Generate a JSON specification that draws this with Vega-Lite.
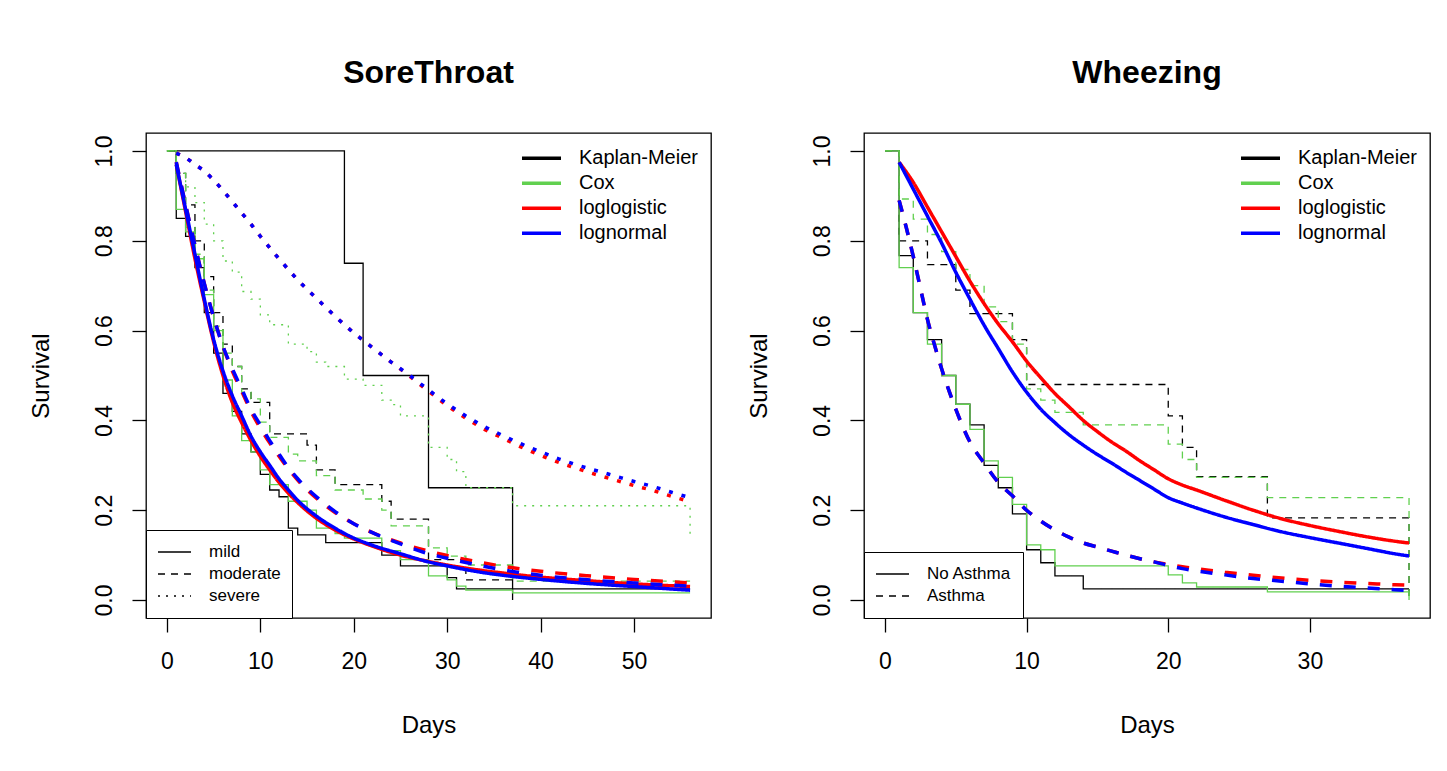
{
  "$schema": "https://vega.github.io/schema/vega-lite/v6.json",
  "padding": {"left": 28, "top": 56, "right": 0, "bottom": 0},
  "background": "white",
  "datasets": {
    "st": [
      {"m":"Kaplan-Meier","g":"mild","t":0,"S":1},{"m":"Kaplan-Meier","g":"mild","t":1,"S":0.85},{"m":"Kaplan-Meier","g":"mild","t":2,"S":0.81},{"m":"Kaplan-Meier","g":"mild","t":3,"S":0.74},{"m":"Kaplan-Meier","g":"mild","t":4,"S":0.64},{"m":"Kaplan-Meier","g":"mild","t":5,"S":0.55},{"m":"Kaplan-Meier","g":"mild","t":6,"S":0.46},{"m":"Kaplan-Meier","g":"mild","t":7,"S":0.42},{"m":"Kaplan-Meier","g":"mild","t":8,"S":0.37},{"m":"Kaplan-Meier","g":"mild","t":9,"S":0.33},{"m":"Kaplan-Meier","g":"mild","t":10,"S":0.28},{"m":"Kaplan-Meier","g":"mild","t":11,"S":0.245},{"m":"Kaplan-Meier","g":"mild","t":12,"S":0.23},{"m":"Kaplan-Meier","g":"mild","t":13,"S":0.16},{"m":"Kaplan-Meier","g":"mild","t":14,"S":0.145},{"m":"Kaplan-Meier","g":"mild","t":17,"S":0.128},{"m":"Kaplan-Meier","g":"mild","t":23,"S":0.1},{"m":"Kaplan-Meier","g":"mild","t":25,"S":0.076},{"m":"Kaplan-Meier","g":"mild","t":30,"S":0.05},{"m":"Kaplan-Meier","g":"mild","t":31,"S":0.025},{"m":"Kaplan-Meier","g":"mild","t":56,"S":0.025},
      {"m":"Kaplan-Meier","g":"moderate","t":0,"S":1},{"m":"Kaplan-Meier","g":"moderate","t":1,"S":0.95},{"m":"Kaplan-Meier","g":"moderate","t":2,"S":0.88},{"m":"Kaplan-Meier","g":"moderate","t":3,"S":0.8},{"m":"Kaplan-Meier","g":"moderate","t":4,"S":0.72},{"m":"Kaplan-Meier","g":"moderate","t":5,"S":0.64},{"m":"Kaplan-Meier","g":"moderate","t":6,"S":0.57},{"m":"Kaplan-Meier","g":"moderate","t":7,"S":0.52},{"m":"Kaplan-Meier","g":"moderate","t":8,"S":0.47},{"m":"Kaplan-Meier","g":"moderate","t":9,"S":0.44},{"m":"Kaplan-Meier","g":"moderate","t":11,"S":0.37},{"m":"Kaplan-Meier","g":"moderate","t":15,"S":0.345},{"m":"Kaplan-Meier","g":"moderate","t":16,"S":0.29},{"m":"Kaplan-Meier","g":"moderate","t":18,"S":0.257},{"m":"Kaplan-Meier","g":"moderate","t":23,"S":0.22},{"m":"Kaplan-Meier","g":"moderate","t":24,"S":0.18},{"m":"Kaplan-Meier","g":"moderate","t":28,"S":0.09},{"m":"Kaplan-Meier","g":"moderate","t":32,"S":0.045},{"m":"Kaplan-Meier","g":"moderate","t":37,"S":0.045},
      {"m":"Kaplan-Meier","g":"severe","t":0,"S":1},{"m":"Kaplan-Meier","g":"severe","t":19,"S":0.75},{"m":"Kaplan-Meier","g":"severe","t":21,"S":0.5},{"m":"Kaplan-Meier","g":"severe","t":28,"S":0.25},{"m":"Kaplan-Meier","g":"severe","t":37,"S":0},
      {"m":"Cox","g":"mild","t":0,"S":1},{"m":"Cox","g":"mild","t":1,"S":0.87},{"m":"Cox","g":"mild","t":2,"S":0.82},{"m":"Cox","g":"mild","t":3,"S":0.76},{"m":"Cox","g":"mild","t":4,"S":0.68},{"m":"Cox","g":"mild","t":5,"S":0.6},{"m":"Cox","g":"mild","t":6,"S":0.49},{"m":"Cox","g":"mild","t":7,"S":0.41},{"m":"Cox","g":"mild","t":8,"S":0.355},{"m":"Cox","g":"mild","t":9,"S":0.33},{"m":"Cox","g":"mild","t":10,"S":0.29},{"m":"Cox","g":"mild","t":11,"S":0.257},{"m":"Cox","g":"mild","t":13,"S":0.22},{"m":"Cox","g":"mild","t":15,"S":0.2},{"m":"Cox","g":"mild","t":16,"S":0.16},{"m":"Cox","g":"mild","t":18,"S":0.148},{"m":"Cox","g":"mild","t":19,"S":0.138},{"m":"Cox","g":"mild","t":23,"S":0.11},{"m":"Cox","g":"mild","t":25,"S":0.09},{"m":"Cox","g":"mild","t":28,"S":0.054},{"m":"Cox","g":"mild","t":30,"S":0.045},{"m":"Cox","g":"mild","t":31,"S":0.031},{"m":"Cox","g":"mild","t":32,"S":0.022},{"m":"Cox","g":"mild","t":37,"S":0.016},{"m":"Cox","g":"mild","t":56,"S":0.016},
      {"m":"Cox","g":"moderate","t":0,"S":1},{"m":"Cox","g":"moderate","t":1,"S":0.95},{"m":"Cox","g":"moderate","t":2,"S":0.83},{"m":"Cox","g":"moderate","t":3,"S":0.77},{"m":"Cox","g":"moderate","t":4,"S":0.69},{"m":"Cox","g":"moderate","t":5,"S":0.61},{"m":"Cox","g":"moderate","t":6,"S":0.55},{"m":"Cox","g":"moderate","t":7,"S":0.52},{"m":"Cox","g":"moderate","t":8,"S":0.463},{"m":"Cox","g":"moderate","t":9,"S":0.448},{"m":"Cox","g":"moderate","t":10,"S":0.396},{"m":"Cox","g":"moderate","t":11,"S":0.362},{"m":"Cox","g":"moderate","t":13,"S":0.325},{"m":"Cox","g":"moderate","t":14,"S":0.31},{"m":"Cox","g":"moderate","t":16,"S":0.277},{"m":"Cox","g":"moderate","t":18,"S":0.245},{"m":"Cox","g":"moderate","t":21,"S":0.225},{"m":"Cox","g":"moderate","t":23,"S":0.2},{"m":"Cox","g":"moderate","t":24,"S":0.165},{"m":"Cox","g":"moderate","t":28,"S":0.116},{"m":"Cox","g":"moderate","t":30,"S":0.098},{"m":"Cox","g":"moderate","t":32,"S":0.078},{"m":"Cox","g":"moderate","t":37,"S":0.042},{"m":"Cox","g":"moderate","t":56,"S":0.042},
      {"m":"Cox","g":"severe","t":0,"S":1},{"m":"Cox","g":"severe","t":1,"S":0.95},{"m":"Cox","g":"severe","t":2,"S":0.92},{"m":"Cox","g":"severe","t":3,"S":0.885},{"m":"Cox","g":"severe","t":4,"S":0.837},{"m":"Cox","g":"severe","t":5,"S":0.8},{"m":"Cox","g":"severe","t":6,"S":0.755},{"m":"Cox","g":"severe","t":7,"S":0.73},{"m":"Cox","g":"severe","t":8,"S":0.687},{"m":"Cox","g":"severe","t":9,"S":0.67},{"m":"Cox","g":"severe","t":10,"S":0.635},{"m":"Cox","g":"severe","t":11,"S":0.613},{"m":"Cox","g":"severe","t":13,"S":0.57},{"m":"Cox","g":"severe","t":15,"S":0.553},{"m":"Cox","g":"severe","t":16,"S":0.53},{"m":"Cox","g":"severe","t":17,"S":0.52},{"m":"Cox","g":"severe","t":19,"S":0.492},{"m":"Cox","g":"severe","t":21,"S":0.478},{"m":"Cox","g":"severe","t":23,"S":0.445},{"m":"Cox","g":"severe","t":24,"S":0.435},{"m":"Cox","g":"severe","t":25,"S":0.41},{"m":"Cox","g":"severe","t":28,"S":0.34},{"m":"Cox","g":"severe","t":30,"S":0.313},{"m":"Cox","g":"severe","t":31,"S":0.286},{"m":"Cox","g":"severe","t":32,"S":0.25},{"m":"Cox","g":"severe","t":37,"S":0.21},{"m":"Cox","g":"severe","t":56,"S":0.143},
      {"m":"loglogistic","g":"mild","t":1,"S":0.97},{"m":"loglogistic","g":"mild","t":2,"S":0.865},{"m":"loglogistic","g":"mild","t":3,"S":0.76},{"m":"loglogistic","g":"mild","t":4,"S":0.665},{"m":"loglogistic","g":"mild","t":5,"S":0.575},{"m":"loglogistic","g":"mild","t":6,"S":0.5},{"m":"loglogistic","g":"mild","t":7,"S":0.44},{"m":"loglogistic","g":"mild","t":8,"S":0.395},{"m":"loglogistic","g":"mild","t":9,"S":0.355},{"m":"loglogistic","g":"mild","t":10,"S":0.32},{"m":"loglogistic","g":"mild","t":11,"S":0.29},{"m":"loglogistic","g":"mild","t":12,"S":0.262},{"m":"loglogistic","g":"mild","t":13,"S":0.238},{"m":"loglogistic","g":"mild","t":14,"S":0.217},{"m":"loglogistic","g":"mild","t":16,"S":0.182},{"m":"loglogistic","g":"mild","t":18,"S":0.156},{"m":"loglogistic","g":"mild","t":20,"S":0.136},{"m":"loglogistic","g":"mild","t":22,"S":0.12},{"m":"loglogistic","g":"mild","t":25,"S":0.1},{"m":"loglogistic","g":"mild","t":28,"S":0.086},{"m":"loglogistic","g":"mild","t":30,"S":0.078},{"m":"loglogistic","g":"mild","t":33,"S":0.068},{"m":"loglogistic","g":"mild","t":36,"S":0.06},{"m":"loglogistic","g":"mild","t":40,"S":0.051},{"m":"loglogistic","g":"mild","t":45,"S":0.043},{"m":"loglogistic","g":"mild","t":50,"S":0.036},{"m":"loglogistic","g":"mild","t":56,"S":0.03},
      {"m":"loglogistic","g":"moderate","t":1,"S":0.975},{"m":"loglogistic","g":"moderate","t":2,"S":0.88},{"m":"loglogistic","g":"moderate","t":3,"S":0.79},{"m":"loglogistic","g":"moderate","t":4,"S":0.705},{"m":"loglogistic","g":"moderate","t":5,"S":0.63},{"m":"loglogistic","g":"moderate","t":6,"S":0.565},{"m":"loglogistic","g":"moderate","t":7,"S":0.51},{"m":"loglogistic","g":"moderate","t":8,"S":0.465},{"m":"loglogistic","g":"moderate","t":9,"S":0.42},{"m":"loglogistic","g":"moderate","t":10,"S":0.383},{"m":"loglogistic","g":"moderate","t":11,"S":0.35},{"m":"loglogistic","g":"moderate","t":12,"S":0.32},{"m":"loglogistic","g":"moderate","t":13,"S":0.292},{"m":"loglogistic","g":"moderate","t":14,"S":0.267},{"m":"loglogistic","g":"moderate","t":16,"S":0.227},{"m":"loglogistic","g":"moderate","t":18,"S":0.195},{"m":"loglogistic","g":"moderate","t":20,"S":0.17},{"m":"loglogistic","g":"moderate","t":22,"S":0.15},{"m":"loglogistic","g":"moderate","t":25,"S":0.127},{"m":"loglogistic","g":"moderate","t":28,"S":0.109},{"m":"loglogistic","g":"moderate","t":30,"S":0.099},{"m":"loglogistic","g":"moderate","t":33,"S":0.086},{"m":"loglogistic","g":"moderate","t":36,"S":0.075},{"m":"loglogistic","g":"moderate","t":40,"S":0.064},{"m":"loglogistic","g":"moderate","t":45,"S":0.054},{"m":"loglogistic","g":"moderate","t":50,"S":0.046},{"m":"loglogistic","g":"moderate","t":56,"S":0.038},
      {"m":"loglogistic","g":"severe","t":1,"S":0.995},{"m":"loglogistic","g":"severe","t":2,"S":0.985},{"m":"loglogistic","g":"severe","t":3,"S":0.97},{"m":"loglogistic","g":"severe","t":4,"S":0.955},{"m":"loglogistic","g":"severe","t":5,"S":0.935},{"m":"loglogistic","g":"severe","t":6,"S":0.912},{"m":"loglogistic","g":"severe","t":7,"S":0.887},{"m":"loglogistic","g":"severe","t":8,"S":0.862},{"m":"loglogistic","g":"severe","t":9,"S":0.837},{"m":"loglogistic","g":"severe","t":10,"S":0.81},{"m":"loglogistic","g":"severe","t":12,"S":0.76},{"m":"loglogistic","g":"severe","t":14,"S":0.713},{"m":"loglogistic","g":"severe","t":16,"S":0.672},{"m":"loglogistic","g":"severe","t":18,"S":0.632},{"m":"loglogistic","g":"severe","t":20,"S":0.595},{"m":"loglogistic","g":"severe","t":22,"S":0.562},{"m":"loglogistic","g":"severe","t":24,"S":0.53},{"m":"loglogistic","g":"severe","t":26,"S":0.498},{"m":"loglogistic","g":"severe","t":28,"S":0.465},{"m":"loglogistic","g":"severe","t":30,"S":0.433},{"m":"loglogistic","g":"severe","t":32,"S":0.405},{"m":"loglogistic","g":"severe","t":34,"S":0.38},{"m":"loglogistic","g":"severe","t":36,"S":0.36},{"m":"loglogistic","g":"severe","t":38,"S":0.34},{"m":"loglogistic","g":"severe","t":40,"S":0.322},{"m":"loglogistic","g":"severe","t":42,"S":0.306},{"m":"loglogistic","g":"severe","t":44,"S":0.292},{"m":"loglogistic","g":"severe","t":46,"S":0.279},{"m":"loglogistic","g":"severe","t":48,"S":0.267},{"m":"loglogistic","g":"severe","t":50,"S":0.255},{"m":"loglogistic","g":"severe","t":52,"S":0.244},{"m":"loglogistic","g":"severe","t":54,"S":0.231},{"m":"loglogistic","g":"severe","t":56,"S":0.219},
      {"m":"lognormal","g":"mild","t":1,"S":0.97},{"m":"lognormal","g":"mild","t":2,"S":0.87},{"m":"lognormal","g":"mild","t":3,"S":0.77},{"m":"lognormal","g":"mild","t":4,"S":0.67},{"m":"lognormal","g":"mild","t":5,"S":0.58},{"m":"lognormal","g":"mild","t":6,"S":0.51},{"m":"lognormal","g":"mild","t":7,"S":0.455},{"m":"lognormal","g":"mild","t":8,"S":0.41},{"m":"lognormal","g":"mild","t":9,"S":0.365},{"m":"lognormal","g":"mild","t":10,"S":0.33},{"m":"lognormal","g":"mild","t":11,"S":0.3},{"m":"lognormal","g":"mild","t":12,"S":0.27},{"m":"lognormal","g":"mild","t":13,"S":0.245},{"m":"lognormal","g":"mild","t":14,"S":0.222},{"m":"lognormal","g":"mild","t":16,"S":0.187},{"m":"lognormal","g":"mild","t":18,"S":0.16},{"m":"lognormal","g":"mild","t":20,"S":0.138},{"m":"lognormal","g":"mild","t":22,"S":0.122},{"m":"lognormal","g":"mild","t":25,"S":0.103},{"m":"lognormal","g":"mild","t":28,"S":0.085},{"m":"lognormal","g":"mild","t":30,"S":0.076},{"m":"lognormal","g":"mild","t":33,"S":0.064},{"m":"lognormal","g":"mild","t":36,"S":0.055},{"m":"lognormal","g":"mild","t":40,"S":0.046},{"m":"lognormal","g":"mild","t":45,"S":0.037},{"m":"lognormal","g":"mild","t":50,"S":0.03},{"m":"lognormal","g":"mild","t":56,"S":0.022},
      {"m":"lognormal","g":"moderate","t":1,"S":0.975},{"m":"lognormal","g":"moderate","t":2,"S":0.88},{"m":"lognormal","g":"moderate","t":3,"S":0.79},{"m":"lognormal","g":"moderate","t":4,"S":0.705},{"m":"lognormal","g":"moderate","t":5,"S":0.63},{"m":"lognormal","g":"moderate","t":6,"S":0.565},{"m":"lognormal","g":"moderate","t":7,"S":0.515},{"m":"lognormal","g":"moderate","t":8,"S":0.47},{"m":"lognormal","g":"moderate","t":9,"S":0.425},{"m":"lognormal","g":"moderate","t":10,"S":0.39},{"m":"lognormal","g":"moderate","t":11,"S":0.355},{"m":"lognormal","g":"moderate","t":12,"S":0.325},{"m":"lognormal","g":"moderate","t":13,"S":0.295},{"m":"lognormal","g":"moderate","t":14,"S":0.27},{"m":"lognormal","g":"moderate","t":16,"S":0.23},{"m":"lognormal","g":"moderate","t":18,"S":0.197},{"m":"lognormal","g":"moderate","t":20,"S":0.17},{"m":"lognormal","g":"moderate","t":22,"S":0.15},{"m":"lognormal","g":"moderate","t":25,"S":0.125},{"m":"lognormal","g":"moderate","t":28,"S":0.103},{"m":"lognormal","g":"moderate","t":30,"S":0.093},{"m":"lognormal","g":"moderate","t":33,"S":0.079},{"m":"lognormal","g":"moderate","t":36,"S":0.067},{"m":"lognormal","g":"moderate","t":40,"S":0.055},{"m":"lognormal","g":"moderate","t":45,"S":0.045},{"m":"lognormal","g":"moderate","t":50,"S":0.038},{"m":"lognormal","g":"moderate","t":56,"S":0.031},
      {"m":"lognormal","g":"severe","t":1,"S":0.995},{"m":"lognormal","g":"severe","t":2,"S":0.985},{"m":"lognormal","g":"severe","t":3,"S":0.97},{"m":"lognormal","g":"severe","t":4,"S":0.955},{"m":"lognormal","g":"severe","t":5,"S":0.935},{"m":"lognormal","g":"severe","t":6,"S":0.912},{"m":"lognormal","g":"severe","t":7,"S":0.887},{"m":"lognormal","g":"severe","t":8,"S":0.862},{"m":"lognormal","g":"severe","t":9,"S":0.837},{"m":"lognormal","g":"severe","t":10,"S":0.81},{"m":"lognormal","g":"severe","t":12,"S":0.76},{"m":"lognormal","g":"severe","t":14,"S":0.713},{"m":"lognormal","g":"severe","t":16,"S":0.672},{"m":"lognormal","g":"severe","t":18,"S":0.632},{"m":"lognormal","g":"severe","t":20,"S":0.595},{"m":"lognormal","g":"severe","t":22,"S":0.562},{"m":"lognormal","g":"severe","t":24,"S":0.53},{"m":"lognormal","g":"severe","t":26,"S":0.5},{"m":"lognormal","g":"severe","t":28,"S":0.468},{"m":"lognormal","g":"severe","t":30,"S":0.437},{"m":"lognormal","g":"severe","t":32,"S":0.41},{"m":"lognormal","g":"severe","t":34,"S":0.386},{"m":"lognormal","g":"severe","t":36,"S":0.366},{"m":"lognormal","g":"severe","t":38,"S":0.347},{"m":"lognormal","g":"severe","t":40,"S":0.33},{"m":"lognormal","g":"severe","t":42,"S":0.314},{"m":"lognormal","g":"severe","t":44,"S":0.3},{"m":"lognormal","g":"severe","t":46,"S":0.288},{"m":"lognormal","g":"severe","t":48,"S":0.276},{"m":"lognormal","g":"severe","t":50,"S":0.264},{"m":"lognormal","g":"severe","t":52,"S":0.253},{"m":"lognormal","g":"severe","t":54,"S":0.24},{"m":"lognormal","g":"severe","t":56,"S":0.228}
    ],
    "wz": [
      {"m":"Kaplan-Meier","g":"No Asthma","t":0,"S":1},{"m":"Kaplan-Meier","g":"No Asthma","t":1,"S":0.767},{"m":"Kaplan-Meier","g":"No Asthma","t":2,"S":0.64},{"m":"Kaplan-Meier","g":"No Asthma","t":3,"S":0.58},{"m":"Kaplan-Meier","g":"No Asthma","t":4,"S":0.5},{"m":"Kaplan-Meier","g":"No Asthma","t":5,"S":0.436},{"m":"Kaplan-Meier","g":"No Asthma","t":6,"S":0.39},{"m":"Kaplan-Meier","g":"No Asthma","t":7,"S":0.3},{"m":"Kaplan-Meier","g":"No Asthma","t":8,"S":0.25},{"m":"Kaplan-Meier","g":"No Asthma","t":9,"S":0.192},{"m":"Kaplan-Meier","g":"No Asthma","t":10,"S":0.112},{"m":"Kaplan-Meier","g":"No Asthma","t":11,"S":0.083},{"m":"Kaplan-Meier","g":"No Asthma","t":12,"S":0.054},{"m":"Kaplan-Meier","g":"No Asthma","t":14,"S":0.025},{"m":"Kaplan-Meier","g":"No Asthma","t":37,"S":0.025},
      {"m":"Kaplan-Meier","g":"Asthma","t":0,"S":1},{"m":"Kaplan-Meier","g":"Asthma","t":1,"S":0.8},{"m":"Kaplan-Meier","g":"Asthma","t":3,"S":0.747},{"m":"Kaplan-Meier","g":"Asthma","t":5,"S":0.69},{"m":"Kaplan-Meier","g":"Asthma","t":6,"S":0.638},{"m":"Kaplan-Meier","g":"Asthma","t":9,"S":0.58},{"m":"Kaplan-Meier","g":"Asthma","t":10,"S":0.48},{"m":"Kaplan-Meier","g":"Asthma","t":20,"S":0.41},{"m":"Kaplan-Meier","g":"Asthma","t":21,"S":0.34},{"m":"Kaplan-Meier","g":"Asthma","t":22,"S":0.275},{"m":"Kaplan-Meier","g":"Asthma","t":27,"S":0.183},{"m":"Kaplan-Meier","g":"Asthma","t":37,"S":0},
      {"m":"Cox","g":"No Asthma","t":0,"S":1},{"m":"Cox","g":"No Asthma","t":1,"S":0.74},{"m":"Cox","g":"No Asthma","t":2,"S":0.64},{"m":"Cox","g":"No Asthma","t":3,"S":0.57},{"m":"Cox","g":"No Asthma","t":4,"S":0.5},{"m":"Cox","g":"No Asthma","t":5,"S":0.436},{"m":"Cox","g":"No Asthma","t":6,"S":0.38},{"m":"Cox","g":"No Asthma","t":7,"S":0.31},{"m":"Cox","g":"No Asthma","t":8,"S":0.273},{"m":"Cox","g":"No Asthma","t":9,"S":0.213},{"m":"Cox","g":"No Asthma","t":10,"S":0.123},{"m":"Cox","g":"No Asthma","t":11,"S":0.112},{"m":"Cox","g":"No Asthma","t":12,"S":0.076},{"m":"Cox","g":"No Asthma","t":20,"S":0.056},{"m":"Cox","g":"No Asthma","t":21,"S":0.038},{"m":"Cox","g":"No Asthma","t":22,"S":0.029},{"m":"Cox","g":"No Asthma","t":27,"S":0.018},{"m":"Cox","g":"No Asthma","t":37,"S":0},
      {"m":"Cox","g":"Asthma","t":0,"S":1},{"m":"Cox","g":"Asthma","t":1,"S":0.893},{"m":"Cox","g":"Asthma","t":2,"S":0.848},{"m":"Cox","g":"Asthma","t":3,"S":0.814},{"m":"Cox","g":"Asthma","t":4,"S":0.776},{"m":"Cox","g":"Asthma","t":5,"S":0.736},{"m":"Cox","g":"Asthma","t":6,"S":0.7},{"m":"Cox","g":"Asthma","t":7,"S":0.653},{"m":"Cox","g":"Asthma","t":8,"S":0.62},{"m":"Cox","g":"Asthma","t":9,"S":0.57},{"m":"Cox","g":"Asthma","t":10,"S":0.47},{"m":"Cox","g":"Asthma","t":11,"S":0.445},{"m":"Cox","g":"Asthma","t":12,"S":0.418},{"m":"Cox","g":"Asthma","t":14,"S":0.39},{"m":"Cox","g":"Asthma","t":20,"S":0.347},{"m":"Cox","g":"Asthma","t":21,"S":0.313},{"m":"Cox","g":"Asthma","t":22,"S":0.273},{"m":"Cox","g":"Asthma","t":27,"S":0.228},{"m":"Cox","g":"Asthma","t":37,"S":0},
      {"m":"loglogistic","g":"No Asthma","t":1,"S":0.975},{"m":"loglogistic","g":"No Asthma","t":2,"S":0.93},{"m":"loglogistic","g":"No Asthma","t":3,"S":0.875},{"m":"loglogistic","g":"No Asthma","t":4,"S":0.82},{"m":"loglogistic","g":"No Asthma","t":5,"S":0.765},{"m":"loglogistic","g":"No Asthma","t":6,"S":0.71},{"m":"loglogistic","g":"No Asthma","t":7,"S":0.66},{"m":"loglogistic","g":"No Asthma","t":8,"S":0.615},{"m":"loglogistic","g":"No Asthma","t":9,"S":0.575},{"m":"loglogistic","g":"No Asthma","t":10,"S":0.532},{"m":"loglogistic","g":"No Asthma","t":11,"S":0.495},{"m":"loglogistic","g":"No Asthma","t":12,"S":0.46},{"m":"loglogistic","g":"No Asthma","t":13,"S":0.43},{"m":"loglogistic","g":"No Asthma","t":14,"S":0.4},{"m":"loglogistic","g":"No Asthma","t":15,"S":0.375},{"m":"loglogistic","g":"No Asthma","t":16,"S":0.352},{"m":"loglogistic","g":"No Asthma","t":17,"S":0.332},{"m":"loglogistic","g":"No Asthma","t":18,"S":0.31},{"m":"loglogistic","g":"No Asthma","t":19,"S":0.29},{"m":"loglogistic","g":"No Asthma","t":20,"S":0.27},{"m":"loglogistic","g":"No Asthma","t":21,"S":0.256},{"m":"loglogistic","g":"No Asthma","t":22,"S":0.245},{"m":"loglogistic","g":"No Asthma","t":24,"S":0.222},{"m":"loglogistic","g":"No Asthma","t":26,"S":0.2},{"m":"loglogistic","g":"No Asthma","t":28,"S":0.181},{"m":"loglogistic","g":"No Asthma","t":30,"S":0.166},{"m":"loglogistic","g":"No Asthma","t":32,"S":0.153},{"m":"loglogistic","g":"No Asthma","t":34,"S":0.141},{"m":"loglogistic","g":"No Asthma","t":36,"S":0.131},{"m":"loglogistic","g":"No Asthma","t":37,"S":0.127},
      {"m":"loglogistic","g":"Asthma","t":1,"S":0.89},{"m":"loglogistic","g":"Asthma","t":1.5,"S":0.83},{"m":"loglogistic","g":"Asthma","t":2,"S":0.765},{"m":"loglogistic","g":"Asthma","t":2.5,"S":0.695},{"m":"loglogistic","g":"Asthma","t":3,"S":0.625},{"m":"loglogistic","g":"Asthma","t":3.5,"S":0.568},{"m":"loglogistic","g":"Asthma","t":4,"S":0.515},{"m":"loglogistic","g":"Asthma","t":4.5,"S":0.468},{"m":"loglogistic","g":"Asthma","t":5,"S":0.425},{"m":"loglogistic","g":"Asthma","t":6,"S":0.352},{"m":"loglogistic","g":"Asthma","t":7,"S":0.305},{"m":"loglogistic","g":"Asthma","t":8,"S":0.262},{"m":"loglogistic","g":"Asthma","t":9,"S":0.232},{"m":"loglogistic","g":"Asthma","t":10,"S":0.2},{"m":"loglogistic","g":"Asthma","t":11,"S":0.176},{"m":"loglogistic","g":"Asthma","t":12,"S":0.156},{"m":"loglogistic","g":"Asthma","t":13,"S":0.14},{"m":"loglogistic","g":"Asthma","t":14,"S":0.127},{"m":"loglogistic","g":"Asthma","t":15,"S":0.118},{"m":"loglogistic","g":"Asthma","t":16,"S":0.109},{"m":"loglogistic","g":"Asthma","t":17,"S":0.1},{"m":"loglogistic","g":"Asthma","t":18,"S":0.092},{"m":"loglogistic","g":"Asthma","t":19,"S":0.085},{"m":"loglogistic","g":"Asthma","t":20,"S":0.079},{"m":"loglogistic","g":"Asthma","t":21,"S":0.074},{"m":"loglogistic","g":"Asthma","t":22,"S":0.07},{"m":"loglogistic","g":"Asthma","t":24,"S":0.062},{"m":"loglogistic","g":"Asthma","t":26,"S":0.055},{"m":"loglogistic","g":"Asthma","t":28,"S":0.049},{"m":"loglogistic","g":"Asthma","t":30,"S":0.044},{"m":"loglogistic","g":"Asthma","t":32,"S":0.04},{"m":"loglogistic","g":"Asthma","t":34,"S":0.037},{"m":"loglogistic","g":"Asthma","t":36,"S":0.034},{"m":"loglogistic","g":"Asthma","t":37,"S":0.033},
      {"m":"lognormal","g":"No Asthma","t":1,"S":0.975},{"m":"lognormal","g":"No Asthma","t":2,"S":0.915},{"m":"lognormal","g":"No Asthma","t":3,"S":0.855},{"m":"lognormal","g":"No Asthma","t":4,"S":0.795},{"m":"lognormal","g":"No Asthma","t":5,"S":0.73},{"m":"lognormal","g":"No Asthma","t":6,"S":0.67},{"m":"lognormal","g":"No Asthma","t":7,"S":0.612},{"m":"lognormal","g":"No Asthma","t":8,"S":0.56},{"m":"lognormal","g":"No Asthma","t":9,"S":0.508},{"m":"lognormal","g":"No Asthma","t":10,"S":0.463},{"m":"lognormal","g":"No Asthma","t":11,"S":0.425},{"m":"lognormal","g":"No Asthma","t":12,"S":0.395},{"m":"lognormal","g":"No Asthma","t":13,"S":0.368},{"m":"lognormal","g":"No Asthma","t":14,"S":0.345},{"m":"lognormal","g":"No Asthma","t":15,"S":0.324},{"m":"lognormal","g":"No Asthma","t":16,"S":0.305},{"m":"lognormal","g":"No Asthma","t":17,"S":0.285},{"m":"lognormal","g":"No Asthma","t":18,"S":0.266},{"m":"lognormal","g":"No Asthma","t":19,"S":0.247},{"m":"lognormal","g":"No Asthma","t":20,"S":0.228},{"m":"lognormal","g":"No Asthma","t":21,"S":0.216},{"m":"lognormal","g":"No Asthma","t":22,"S":0.205},{"m":"lognormal","g":"No Asthma","t":24,"S":0.185},{"m":"lognormal","g":"No Asthma","t":26,"S":0.168},{"m":"lognormal","g":"No Asthma","t":28,"S":0.152},{"m":"lognormal","g":"No Asthma","t":30,"S":0.139},{"m":"lognormal","g":"No Asthma","t":32,"S":0.127},{"m":"lognormal","g":"No Asthma","t":34,"S":0.115},{"m":"lognormal","g":"No Asthma","t":36,"S":0.103},{"m":"lognormal","g":"No Asthma","t":37,"S":0.098},
      {"m":"lognormal","g":"Asthma","t":1,"S":0.89},{"m":"lognormal","g":"Asthma","t":1.5,"S":0.83},{"m":"lognormal","g":"Asthma","t":2,"S":0.765},{"m":"lognormal","g":"Asthma","t":2.5,"S":0.695},{"m":"lognormal","g":"Asthma","t":3,"S":0.625},{"m":"lognormal","g":"Asthma","t":3.5,"S":0.568},{"m":"lognormal","g":"Asthma","t":4,"S":0.515},{"m":"lognormal","g":"Asthma","t":4.5,"S":0.468},{"m":"lognormal","g":"Asthma","t":5,"S":0.425},{"m":"lognormal","g":"Asthma","t":6,"S":0.352},{"m":"lognormal","g":"Asthma","t":7,"S":0.305},{"m":"lognormal","g":"Asthma","t":8,"S":0.262},{"m":"lognormal","g":"Asthma","t":9,"S":0.232},{"m":"lognormal","g":"Asthma","t":10,"S":0.2},{"m":"lognormal","g":"Asthma","t":11,"S":0.176},{"m":"lognormal","g":"Asthma","t":12,"S":0.156},{"m":"lognormal","g":"Asthma","t":13,"S":0.14},{"m":"lognormal","g":"Asthma","t":14,"S":0.127},{"m":"lognormal","g":"Asthma","t":15,"S":0.118},{"m":"lognormal","g":"Asthma","t":16,"S":0.109},{"m":"lognormal","g":"Asthma","t":17,"S":0.1},{"m":"lognormal","g":"Asthma","t":18,"S":0.092},{"m":"lognormal","g":"Asthma","t":19,"S":0.085},{"m":"lognormal","g":"Asthma","t":20,"S":0.077},{"m":"lognormal","g":"Asthma","t":21,"S":0.07},{"m":"lognormal","g":"Asthma","t":22,"S":0.065},{"m":"lognormal","g":"Asthma","t":24,"S":0.056},{"m":"lognormal","g":"Asthma","t":26,"S":0.048},{"m":"lognormal","g":"Asthma","t":28,"S":0.042},{"m":"lognormal","g":"Asthma","t":30,"S":0.036},{"m":"lognormal","g":"Asthma","t":32,"S":0.031},{"m":"lognormal","g":"Asthma","t":34,"S":0.027},{"m":"lognormal","g":"Asthma","t":36,"S":0.023},{"m":"lognormal","g":"Asthma","t":37,"S":0.021}
    ]
  },
  "spacing": 153,
  "bounds": "flush",
  "hconcat": [
    {
      "width": 565,
      "height": 485,
      "title": {"text": "SoreThroat", "fontSize": 32, "fontWeight": "bold", "font": "Liberation Sans", "color": "black", "frame": "group", "anchor": "middle", "offset": 43},
      "data": {"name": "st"},
      "encoding": {
        "x": {"field": "t", "type": "quantitative", "scale": {"domain": [-2.24, 58.24], "nice": false, "zero": false}, "axis": {"values": [0, 10, 20, 30, 40, 50], "title": "Days"}},
        "y": {"field": "S", "type": "quantitative", "scale": {"domain": [-0.04, 1.04], "nice": false, "zero": false}, "axis": {"values": [0, 0.2, 0.4, 0.6, 0.8, 1], "format": ".1f", "title": "Survival"}},
        "color": {"field": "m", "type": "nominal", "scale": {"domain": ["Kaplan-Meier", "Cox", "loglogistic", "lognormal"], "range": ["black", "#61D04F", "red", "blue"]},
          "legend": {"title": null, "orient": "top-right", "offset": 13, "padding": 0, "symbolType": "stroke", "symbolSize": 1521, "symbolStrokeWidth": 3.5, "labelFontSize": 20, "labelFont": "Liberation Sans", "labelColor": "black", "clipHeight": 24.3, "rowPadding": 0, "labelOffset": 16}}
      },
      "layer": [
        {"transform": [{"filter": "datum.m == 'Kaplan-Meier'"}], "mark": {"type": "line", "interpolate": "step-after", "strokeWidth": 1.3},
         "encoding": {"strokeDash": {"field": "g", "type": "nominal", "scale": {"domain": ["mild", "moderate", "severe"], "range": [[1, 0], [7, 6], [1, 0]]}, "legend": null}}},
        {"transform": [{"filter": "datum.m == 'Cox'"}], "mark": {"type": "line", "interpolate": "step-after", "strokeWidth": 1.3},
         "encoding": {"strokeDash": {"field": "g", "type": "nominal", "scale": {"domain": ["mild", "moderate", "severe"], "range": [[1, 0], [7, 6], [2, 6]]},
           "legend": {"title": null, "orient": "bottom-left", "offset": 0, "padding": 11, "strokeColor": "black", "fillColor": "white", "symbolType": "stroke", "symbolSize": 1089, "symbolStrokeWidth": 1.3, "symbolStrokeColor": "black", "labelFontSize": 17, "labelFont": "Liberation Sans", "labelColor": "black", "clipHeight": 22, "rowPadding": 0, "labelOffset": 17}}}},
        {"transform": [{"filter": "datum.m == 'loglogistic'"}], "mark": {"type": "line", "interpolate": "monotone", "strokeWidth": 3.5},
         "encoding": {"strokeDash": {"field": "g", "type": "nominal", "scale": {"domain": ["mild", "moderate", "severe"], "range": [[1, 0], [12, 12], [4, 9]]}, "legend": null}}},
        {"transform": [{"filter": "datum.m == 'lognormal'"}], "mark": {"type": "line", "interpolate": "monotone", "strokeWidth": 3.5},
         "encoding": {"strokeDash": {"field": "g", "type": "nominal", "scale": {"domain": ["mild", "moderate", "severe"], "range": [[1, 0], [12, 12], [4, 9]]}, "legend": null}}}
      ],
      "resolve": {"scale": {"strokeDash": "independent"}, "legend": {"strokeDash": "independent"}}
    },
    {
      "width": 566,
      "height": 485,
      "title": {"text": "Wheezing", "fontSize": 32, "fontWeight": "bold", "font": "Liberation Sans", "color": "black", "frame": "group", "anchor": "middle", "offset": 43},
      "data": {"name": "wz"},
      "encoding": {
        "x": {"field": "t", "type": "quantitative", "scale": {"domain": [-1.48, 38.48], "nice": false, "zero": false}, "axis": {"values": [0, 10, 20, 30], "title": "Days"}},
        "y": {"field": "S", "type": "quantitative", "scale": {"domain": [-0.04, 1.04], "nice": false, "zero": false}, "axis": {"values": [0, 0.2, 0.4, 0.6, 0.8, 1], "format": ".1f", "title": "Survival"}},
        "color": {"field": "m", "type": "nominal", "scale": {"domain": ["Kaplan-Meier", "Cox", "loglogistic", "lognormal"], "range": ["black", "#61D04F", "red", "blue"]},
          "legend": {"title": null, "orient": "top-right", "offset": 13, "padding": 0, "symbolType": "stroke", "symbolSize": 1521, "symbolStrokeWidth": 3.5, "labelFontSize": 20, "labelFont": "Liberation Sans", "labelColor": "black", "clipHeight": 24.3, "rowPadding": 0, "labelOffset": 16}}
      },
      "layer": [
        {"transform": [{"filter": "datum.m == 'Kaplan-Meier'"}], "mark": {"type": "line", "interpolate": "step-after", "strokeWidth": 1.3},
         "encoding": {"strokeDash": {"field": "g", "type": "nominal", "scale": {"domain": ["No Asthma", "Asthma"], "range": [[1, 0], [7, 6]]}, "legend": null}}},
        {"transform": [{"filter": "datum.m == 'Cox'"}], "mark": {"type": "line", "interpolate": "step-after", "strokeWidth": 1.3},
         "encoding": {"strokeDash": {"field": "g", "type": "nominal", "scale": {"domain": ["No Asthma", "Asthma"], "range": [[1, 0], [7, 6]]},
           "legend": {"title": null, "orient": "bottom-left", "offset": 0, "padding": 11, "strokeColor": "black", "fillColor": "white", "symbolType": "stroke", "symbolSize": 1089, "symbolStrokeWidth": 1.3, "symbolStrokeColor": "black", "labelFontSize": 17, "labelFont": "Liberation Sans", "labelColor": "black", "clipHeight": 22, "rowPadding": 0, "labelOffset": 17}}}},
        {"transform": [{"filter": "datum.m == 'loglogistic'"}], "mark": {"type": "line", "interpolate": "monotone", "strokeWidth": 3.5},
         "encoding": {"strokeDash": {"field": "g", "type": "nominal", "scale": {"domain": ["No Asthma", "Asthma"], "range": [[1, 0], [12, 12]]}, "legend": null}}},
        {"transform": [{"filter": "datum.m == 'lognormal'"}], "mark": {"type": "line", "interpolate": "monotone", "strokeWidth": 3.5},
         "encoding": {"strokeDash": {"field": "g", "type": "nominal", "scale": {"domain": ["No Asthma", "Asthma"], "range": [[1, 0], [12, 12]]}, "legend": null}}}
      ],
      "resolve": {"scale": {"strokeDash": "independent"}, "legend": {"strokeDash": "independent"}}
    }
  ],
  "resolve": {
    "scale": {"x": "independent", "y": "independent", "color": "independent", "strokeDash": "independent"},
    "legend": {"color": "independent", "strokeDash": "independent"}
  },
  "config": {
    "view": {"stroke": "black", "strokeWidth": 1.3},
    "axis": {"domain": false, "grid": false, "tickColor": "black", "tickSize": 14, "tickWidth": 1.3, "labelFont": "Liberation Sans", "labelFontSize": 23, "labelColor": "black", "labelFlush": false, "labelOverlap": false, "titleFont": "Liberation Sans", "titleFontSize": 24, "titleFontWeight": "normal", "titleColor": "black"},
    "axisX": {"labelPadding": 18, "titlePadding": 40, "labelAngle": 0},
    "axisY": {"labelAngle": 270, "labelAlign": "center", "labelBaseline": "bottom", "labelPadding": 16, "titlePadding": 40}
  }
}
